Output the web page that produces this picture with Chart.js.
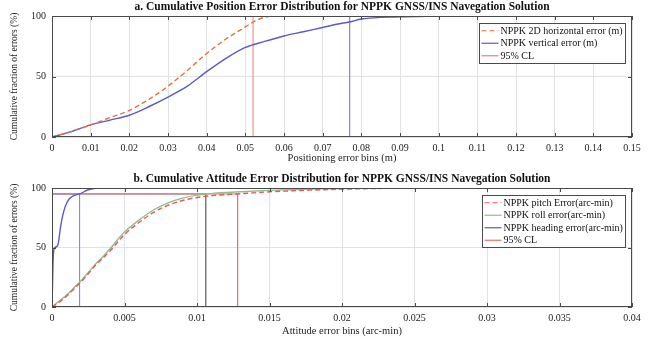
<!DOCTYPE html>
<html>
<head>
<meta charset="utf-8">
<script src="https://cdn.jsdelivr.net/npm/chart.js@4.4.1/dist/chart.umd.min.js"></script>
<style>
  html, body { margin: 0; padding: 0; background: #fff; }
  #wrap { position: relative; width: 659px; height: 345px; }
  canvas { position: absolute; left: 0; }
  #posChart { top: 0; }
  #attChart { top: 172px; }
</style>
</head>
<body>
<div id="wrap">
  <canvas id="posChart" width="659" height="172"></canvas>
  <canvas id="attChart" width="659" height="173"></canvas>
</div>
<script>
// a. position error CDFs (bins in metres, fraction in %)
const horizBins = [0, 0.005, 0.01, 0.015, 0.02, 0.025, 0.03, 0.035, 0.04, 0.045, 0.05, 0.052, 0.055, 0.058];
const horizCdf  = [0, 4.5, 10, 16, 22, 31, 42, 55, 69, 81, 91, 95, 99, 100];
const vertBins  = [0, 0.005, 0.01, 0.015, 0.02, 0.025, 0.03, 0.035, 0.04, 0.045, 0.05, 0.055, 0.06, 0.065, 0.07, 0.075, 0.077, 0.08, 0.09, 0.1];
const vertCdf   = [0, 4.5, 10, 14, 18, 25, 33, 42, 54, 65, 74, 79, 83.5, 87, 90.5, 94, 95, 97.5, 99.3, 100];
const posCL     = [0.052, 0.077];          // horizontal, vertical
const posLabels = ['NPPK 2D horizontal error (m)', 'NPPK vertical error (m)', '95% CL'];

// b. attitude error CDFs (bins in arc-min)
const attBins  = [0, 0.0005, 0.001, 0.0015, 0.002, 0.0025, 0.003, 0.0035, 0.004, 0.005, 0.006, 0.007, 0.008, 0.009, 0.01, 0.011, 0.012, 0.013, 0.015, 0.018, 0.021, 0.025];
const pitchCdf = [0, 4, 9, 15, 21, 28, 35, 41, 47, 61, 71, 79.5, 85.5, 89.5, 92, 93.6, 94.5, 95.2, 96.8, 98.3, 99.3, 100];
const rollCdf  = [0, 5, 10, 16, 22, 29, 36, 42, 49, 63, 73, 81.5, 87.5, 91.5, 94, 95.3, 96.2, 96.9, 98, 99.2, 99.8, 100];
const headBins = [0, 0.0001, 0.0002, 0.0004, 0.0006, 0.0008, 0.001, 0.0012, 0.0015, 0.0019, 0.0025, 0.003, 0.0035];
const headCdf  = [0, 45, 50, 52, 68, 80, 87, 91, 93.5, 95, 98.5, 99.7, 100];
const attCL    = [0.0128, 0.0106, 0.0019];  // pitch, roll, heading
const attLabels = ['NPPK pitch Error(arc-min)', 'NPPK roll error(arc-min)', 'NPPK heading error(arc-min)', '95% CL'];

const clLevel = 95;
const yTicks = [0, 50, 100];

const serif = '"Liberation Serif", "DejaVu Serif", serif';

function xy(bins, vals) {
  return bins.map((b, i) => ({ x: b, y: vals[i] }));
}

function curve(label, bins, vals, color, dashed) {
  return {
    label: label,
    data: xy(bins, vals),
    borderColor: color,
    borderWidth: 1.4,
    borderDash: dashed ? [5, 3] : [],
    cubicInterpolationMode: 'monotone'
  };
}

// vertical CL marker, optionally with the 95% level drawn across
function clLine(label, x, color, withLevel) {
  const pts = withLevel
    ? [{ x: 0, y: clLevel }, { x: x, y: clLevel }, { x: x, y: 0 }]
    : [{ x: x, y: 0 }, { x: x, y: 100 }];
  return {
    label: label,
    data: pts,
    borderColor: color,
    borderWidth: 1,
    tension: 0,
    hideInLegend: !label
  };
}

// axes box, inward ticks, title and boxed legend
const frame = {
  id: 'frame',
  afterDraw(chart, args, opts) {
    const { ctx, chartArea: a, scales: { x, y } } = chart;
    ctx.save();
    ctx.strokeStyle = '#4a4a4a';
    ctx.lineWidth = 1;
    ctx.strokeRect(a.left + 0.5, a.top + 0.5, a.width - 1, a.height - 1);

    ctx.beginPath();
    x.ticks.forEach(t => {
      const px = Math.round(x.getPixelForValue(t.value)) + 0.5;
      ctx.moveTo(px, a.bottom); ctx.lineTo(px, a.bottom - 4);
      ctx.moveTo(px, a.top); ctx.lineTo(px, a.top + 4);
    });
    y.ticks.forEach(t => {
      const py = Math.round(y.getPixelForValue(t.value)) + 0.5;
      ctx.moveTo(a.left, py); ctx.lineTo(a.left + 4, py);
      ctx.moveTo(a.right, py); ctx.lineTo(a.right - 4, py);
    });
    ctx.stroke();

    ctx.fillStyle = '#111';
    ctx.font = 'bold 11.5px ' + serif;
    ctx.textAlign = 'center';
    ctx.textBaseline = 'middle';
    ctx.fillText(opts.title, (a.left + a.right) / 2, a.top - 9);

    const items = chart.data.datasets.filter(d => !d.hideInLegend);
    ctx.font = '10px ' + serif;
    const textW = Math.max(...items.map(d => ctx.measureText(d.label).width));
    const rowH = 12.5;
    const w = Math.round(textW + 24), h = Math.round(items.length * rowH + 2);
    const bx = Math.round(a.right - 7 - w) + 0.5, by = Math.round(a.top + 7) + 0.5;
    ctx.fillStyle = '#fff';
    ctx.fillRect(bx, by, w, h);
    ctx.strokeStyle = '#4a4a4a';
    ctx.strokeRect(bx, by, w, h);
    ctx.textAlign = 'left';
    items.forEach((d, i) => {
      const cy = by + 1 + rowH * i + rowH / 2;
      ctx.strokeStyle = d.borderColor;
      ctx.lineWidth = 1.2;
      ctx.setLineDash(d.borderDash || []);
      ctx.beginPath();
      ctx.moveTo(bx + 2, cy); ctx.lineTo(bx + 19, cy);
      ctx.stroke();
      ctx.setLineDash([]);
      ctx.fillStyle = '#111';
      ctx.fillText(d.label, bx + 21, cy + 0.5);
    });
    ctx.restore();
  }
};

function tickText(v) {
  return String(+v.toFixed(4));
}

function options(title, xMax, xStep, xTitle, xAxisH) {
  const tickFont = { family: serif, size: 10 };
  return {
    responsive: false,
    animation: false,
    layout: { padding: { top: 16, right: 27, left: 0, bottom: 0 } },
    elements: { point: { radius: 0 } },
    plugins: {
      legend: { display: false },
      tooltip: { enabled: false },
      frame: { title: title }
    },
    scales: {
      x: {
        type: 'linear', min: 0, max: xMax,
        afterFit: s => { s.height = xAxisH; },
        ticks: { stepSize: xStep, callback: tickText, font: tickFont, color: '#222', padding: 5, maxRotation: 0, autoSkip: false },
        grid: { color: '#e2e2e2', drawTicks: false },
        border: { display: false },
        title: { display: true, text: xTitle, font: { family: serif, size: 10.5 }, color: '#222', padding: { bottom: 7 } }
      },
      y: {
        min: 0, max: 100,
        afterFit: s => { s.width = 52; },
        afterBuildTicks: s => { s.ticks = yTicks.map(v => ({ value: v })); },
        ticks: { font: tickFont, color: '#222', padding: 6 },
        grid: { color: '#e2e2e2', drawTicks: false },
        border: { display: false },
        title: { display: true, text: 'Cumulative fraction of errors (%)', font: { family: serif, size: 9.5 }, color: '#222', padding: { top: 9 } }
      }
    }
  };
}

// Chart.js paints the first dataset last, so curves go first to sit on top
new Chart(document.getElementById('posChart'), {
  type: 'line',
  data: {
    datasets: [
      curve(posLabels[0], horizBins, horizCdf, '#e8703a', true),
      curve(posLabels[1], vertBins, vertCdf, '#5a5ac8', false),
      clLine(posLabels[2], posCL[0], '#ea8070', false),
      clLine('', posCL[1], '#6b6bd0', false)
    ]
  },
  options: options('a. Cumulative Position Error Distribution for NPPK GNSS/INS Navegation Solution',
    0.15, 0.01, 'Positioning error bins (m)', 35),
  plugins: [frame]
});

new Chart(document.getElementById('attChart'), {
  type: 'line',
  data: {
    datasets: [
      curve(attLabels[0], attBins, pitchCdf, '#e85a5a', true),
      curve(attLabels[1], attBins, rollCdf, '#8cc08c', false),
      curve(attLabels[2], headBins, headCdf, '#5a5ac8', false),
      clLine('', attCL[2], '#8a8ad8', true),
      clLine(attLabels[3], attCL[0], '#ea7070', true),
      clLine('', attCL[1], '#7a7a7a', true)
    ]
  },
  options: options('b. Cumulative Attitude Error Distribution for NPPK GNSS/INS Navegation Solution',
    0.04, 0.005, 'Attitude error bins (arc-min)', 38),
  plugins: [frame]
});
</script>
</body>
</html>
